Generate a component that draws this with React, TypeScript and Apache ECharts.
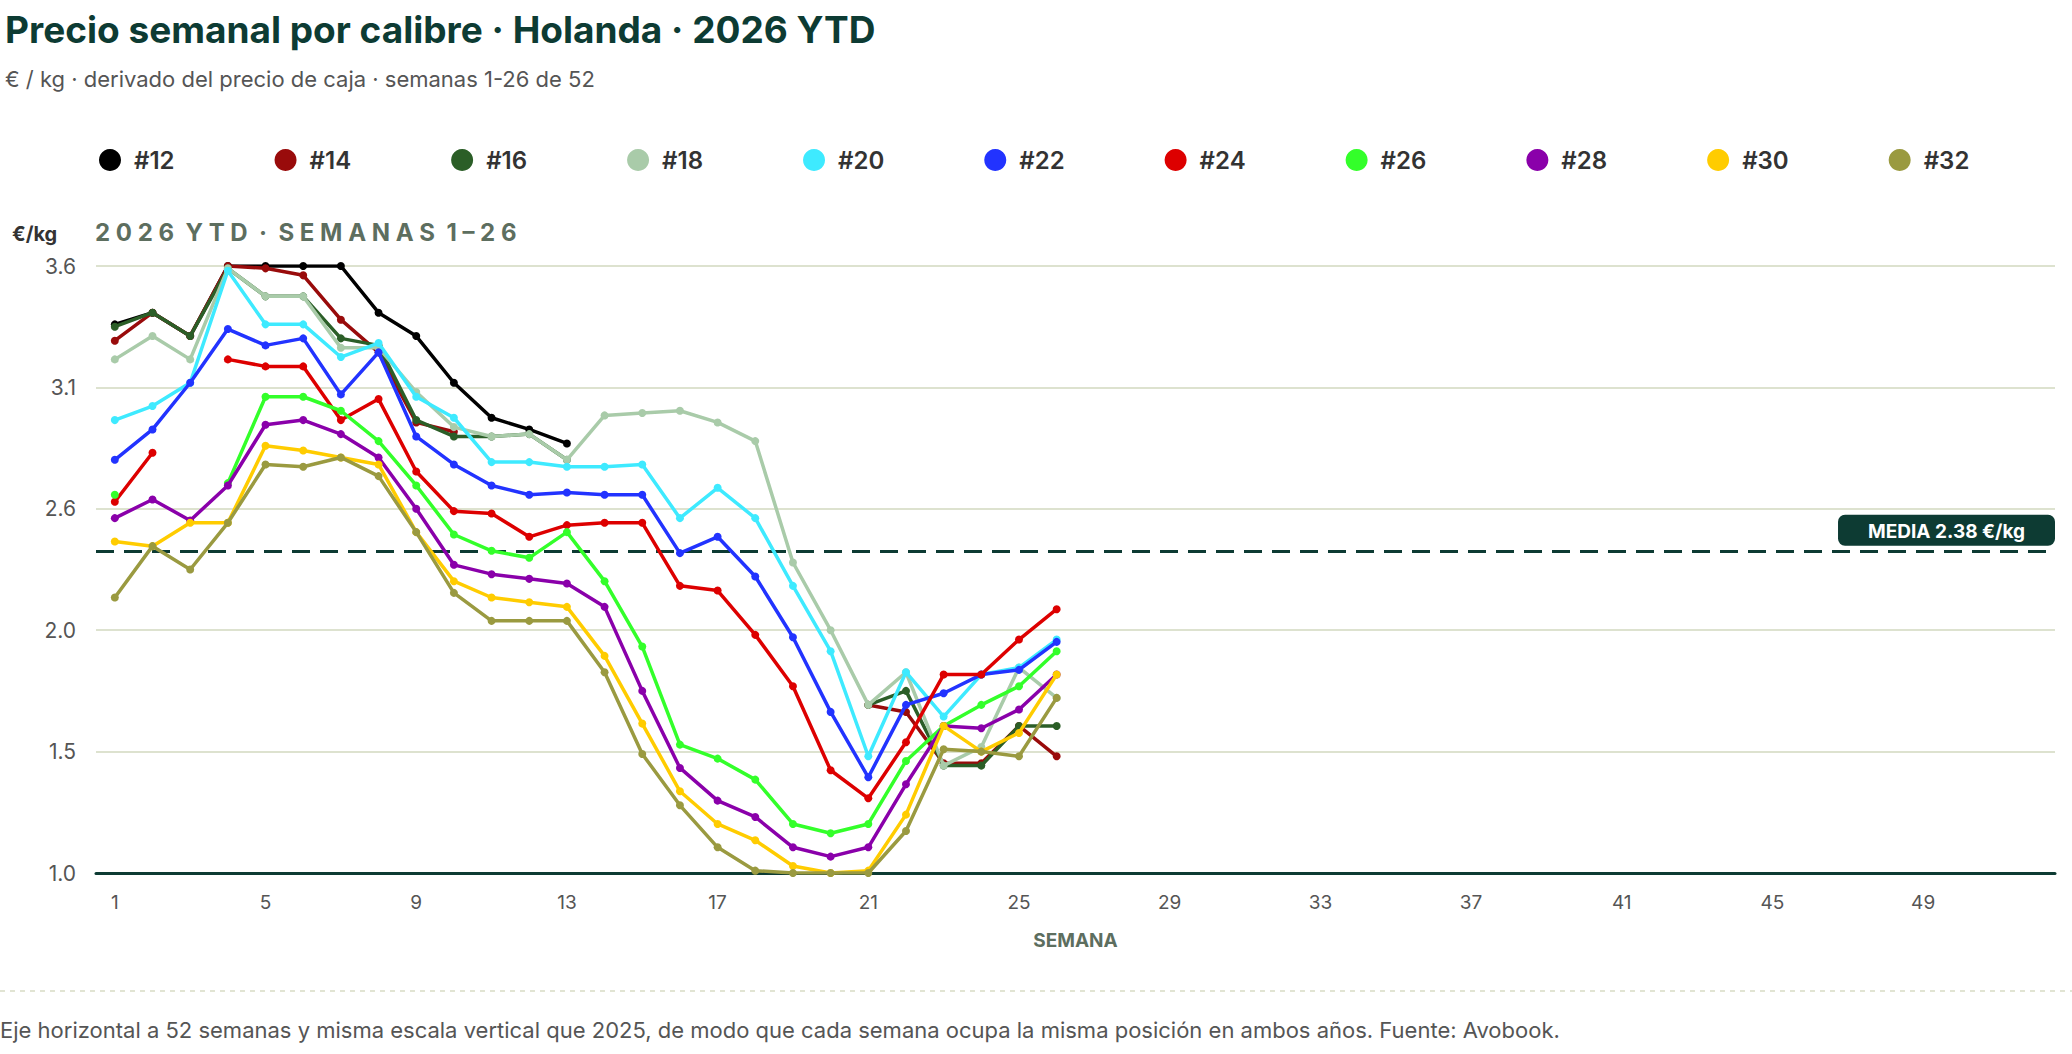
import { useEffect, useRef } from 'react';
import * as echarts from 'echarts';

const weeks = Array.from({ length: 52 }, (_, i) => String(i + 1));
const calibres = ['#12', '#14', '#16', '#18', '#20', '#22', '#24', '#26', '#28', '#30', '#32'];
const colors = ['#000000', '#990b0b', '#2b5e27', '#a9cba9', '#3eeaff', '#2233ff', '#dd0000', '#33ff2a', '#8a00aa', '#ffcc00', '#9a9a40'];
const _ = null;

const s12 = [3.35, 3.4, 3.3, 3.6, 3.6, 3.6, 3.6, 3.4, 3.3, 3.1, 2.95, 2.9, 2.84];
const s14 = [3.28, 3.4, 3.3, 3.6, 3.59, 3.56, 3.37, 3.23, 2.93, 2.89, _, _, _, _, _, _, _, _, _, _, 1.72, 1.69, 1.47, 1.47, 1.63, 1.5];
const s16 = [3.34, 3.4, 3.3, 3.59, 3.47, 3.47, 3.29, 3.26, 2.94, 2.87, 2.87, 2.88, 2.77, _, _, _, _, _, _, _, 1.72, 1.78, 1.46, 1.46, 1.63, 1.63];
const s18 = [3.2, 3.3, 3.2, 3.59, 3.47, 3.47, 3.25, 3.25, 3.06, 2.91, 2.87, 2.88, 2.77, 2.96, 2.97, 2.98, 2.93, 2.85, 2.33, 2.04, 1.72, 1.86, 1.46, 1.54, 1.88, 1.75];
const s20 = [2.94, 3.0, 3.1, 3.58, 3.35, 3.35, 3.21, 3.27, 3.04, 2.95, 2.76, 2.76, 2.74, 2.74, 2.75, 2.52, 2.65, 2.52, 2.23, 1.95, 1.5, 1.86, 1.67, 1.85, 1.88, 2.0];
const s22 = [2.77, 2.9, 3.1, 3.33, 3.26, 3.29, 3.05, 3.23, 2.87, 2.75, 2.66, 2.62, 2.63, 2.62, 2.62, 2.37, 2.44, 2.27, 2.01, 1.69, 1.41, 1.72, 1.77, 1.85, 1.87, 1.99];
const s24 = [2.59, 2.8, _, 3.2, 3.17, 3.17, 2.94, 3.03, 2.72, 2.55, 2.54, 2.44, 2.49, 2.5, 2.5, 2.23, 2.21, 2.02, 1.8, 1.44, 1.32, 1.56, 1.85, 1.85, 2.0, 2.13];
const s26 = [2.62, _, _, 2.67, 3.04, 3.04, 2.98, 2.85, 2.66, 2.45, 2.38, 2.35, 2.46, 2.25, 1.97, 1.55, 1.49, 1.4, 1.21, 1.17, 1.21, 1.48, 1.63, 1.72, 1.8, 1.95];
const s28 = [2.52, 2.6, 2.51, 2.66, 2.92, 2.94, 2.88, 2.78, 2.56, 2.32, 2.28, 2.26, 2.24, 2.14, 1.78, 1.45, 1.31, 1.24, 1.11, 1.07, 1.11, 1.38, 1.63, 1.62, 1.7, 1.85];
const s30 = [2.42, 2.4, 2.5, 2.5, 2.83, 2.81, 2.78, 2.75, 2.46, 2.25, 2.18, 2.16, 2.14, 1.93, 1.64, 1.35, 1.21, 1.14, 1.03, 1.0, 1.01, 1.25, 1.63, 1.52, 1.6, 1.85];
const s32 = [2.18, 2.4, 2.3, 2.5, 2.75, 2.74, 2.78, 2.7, 2.46, 2.2, 2.08, 2.08, 2.08, 1.86, 1.51, 1.29, 1.11, 1.01, 1.0, 1.0, 1.0, 1.18, 1.53, 1.52, 1.5, 1.75];
const seriesValues = [s12, s14, s16, s18, s20, s22, s24, s26, s28, s30, s32];

const mean = 2.38;
const yMin = 1.0;
const yMax = 3.6;

const FONT = 'Inter, "Open Sans", sans-serif';
const DARK = '#0d3b33';

export default function App() {
  const chartRef = useRef<HTMLDivElement>(null);

  useEffect(() => {
    if (!chartRef.current) return;
    const chart = echarts.init(chartRef.current, null, { renderer: 'svg' });

    // values are shifted by yMin so the tick interval can start at 0
    const series: any[] = seriesValues.map((vals, i) => ({
      name: calibres[i],
      type: 'line',
      data: vals.map(v => (v == null ? null : +(v - yMin).toFixed(3))),
      symbol: 'circle',
      symbolSize: 8,
      connectNulls: false,
      lineStyle: { color: colors[i], width: 3.5 },
      itemStyle: { color: colors[i] },
      z: 3 + i,
    }));

    series.push({
      name: 'media',
      type: 'line',
      data: [],
      markLine: {
        symbol: 'none',
        silent: true,
        lineStyle: { color: DARK, type: [18, 10], width: 3 },
        data: [{ yAxis: mean - yMin }],
        label: {
          position: 'insideEndTop',
          formatter: `MEDIA ${mean} €/kg`,
          color: '#fff',
          fontFamily: FONT,
          fontWeight: 'bold',
          fontSize: 19,
          backgroundColor: DARK,
          borderRadius: 7,
          padding: [7, 30, 5, 30],
          distance: [0, 5],
        },
      },
    });

    const option: echarts.EChartsOption = {
      animation: false,
      backgroundColor: '#fff',
      textStyle: { fontFamily: FONT },
      title: {
        text: 'Precio semanal por calibre · Holanda · 2026 YTD',
        subtext: '€ / kg · derivado del precio de caja · semanas 1-26 de 52',
        left: 0,
        top: 6,
        itemGap: 20,
        textStyle: { fontFamily: FONT, fontSize: 37, fontWeight: 'bold', color: DARK },
        subtextStyle: { fontFamily: FONT, fontSize: 22, color: '#555' },
      },
      legend: {
        data: calibres,
        top: 143,
        left: 94,
        width: 1970,
        itemGap: 100,
        icon: 'circle',
        itemWidth: 22,
        itemHeight: 22,
        textStyle: { fontFamily: FONT, fontSize: 24, fontWeight: 600, color: '#333', padding: [0, 0, 0, 8] },
      },
      grid: { left: 96, right: 17, top: 266, bottom: 181, containLabel: false },
      xAxis: {
        type: 'category',
        data: weeks,
        boundaryGap: true,
        name: 'SEMANA',
        nameLocation: 'middle',
        nameGap: 58,
        nameTextStyle: { fontFamily: FONT, fontSize: 19, fontWeight: 'bold', color: '#5d6e5f' },
        axisLine: { lineStyle: { color: DARK, width: 3 } },
        axisTick: { show: false },
        axisLabel: { interval: 3, color: '#555', fontSize: 19, margin: 20 },
        splitLine: { show: false },
      },
      yAxis: {
        type: 'value',
        min: 0,
        max: yMax - yMin,
        interval: 0.52,
        axisLine: { show: false },
        axisTick: { show: false },
        axisLabel: {
          color: '#555',
          fontSize: 21,
          margin: 20,
          formatter: (v: number) => (v + yMin).toFixed(1),
        },
        splitLine: { lineStyle: { color: '#dde2cf', width: 2 } },
      },
      graphic: [
        { type: 'text', left: 12, top: 224, style: { text: '€/kg', font: `bold 20px ${FONT}`, fill: '#333' } },
        { type: 'text', left: 95, top: 220, style: { text: '2 0 2 6  Y T D  ·  S E M A N A S  1 – 2 6', font: `bold 24px ${FONT}`, fill: '#5d6e5f' } },
        { type: 'line', shape: { x1: 0, y1: 991, x2: 2072, y2: 991 }, style: { stroke: '#d8dcc5', lineWidth: 1.5, lineDash: [5, 5] } },
        {
          type: 'text',
          left: 0,
          top: 1019,
          style: {
            text: 'Eje horizontal a 52 semanas y misma escala vertical que 2025, de modo que cada semana ocupa la misma posición en ambos años. Fuente: Avobook.',
            font: `22px ${FONT}`,
            fill: '#555',
          },
        },
      ],
      series,
    };

    chart.setOption(option);
    return () => chart.dispose();
  }, []);

  return <div ref={chartRef} style={{ position: 'fixed', left: 0, top: 0, width: 2072, height: 1054 }} />;
}
